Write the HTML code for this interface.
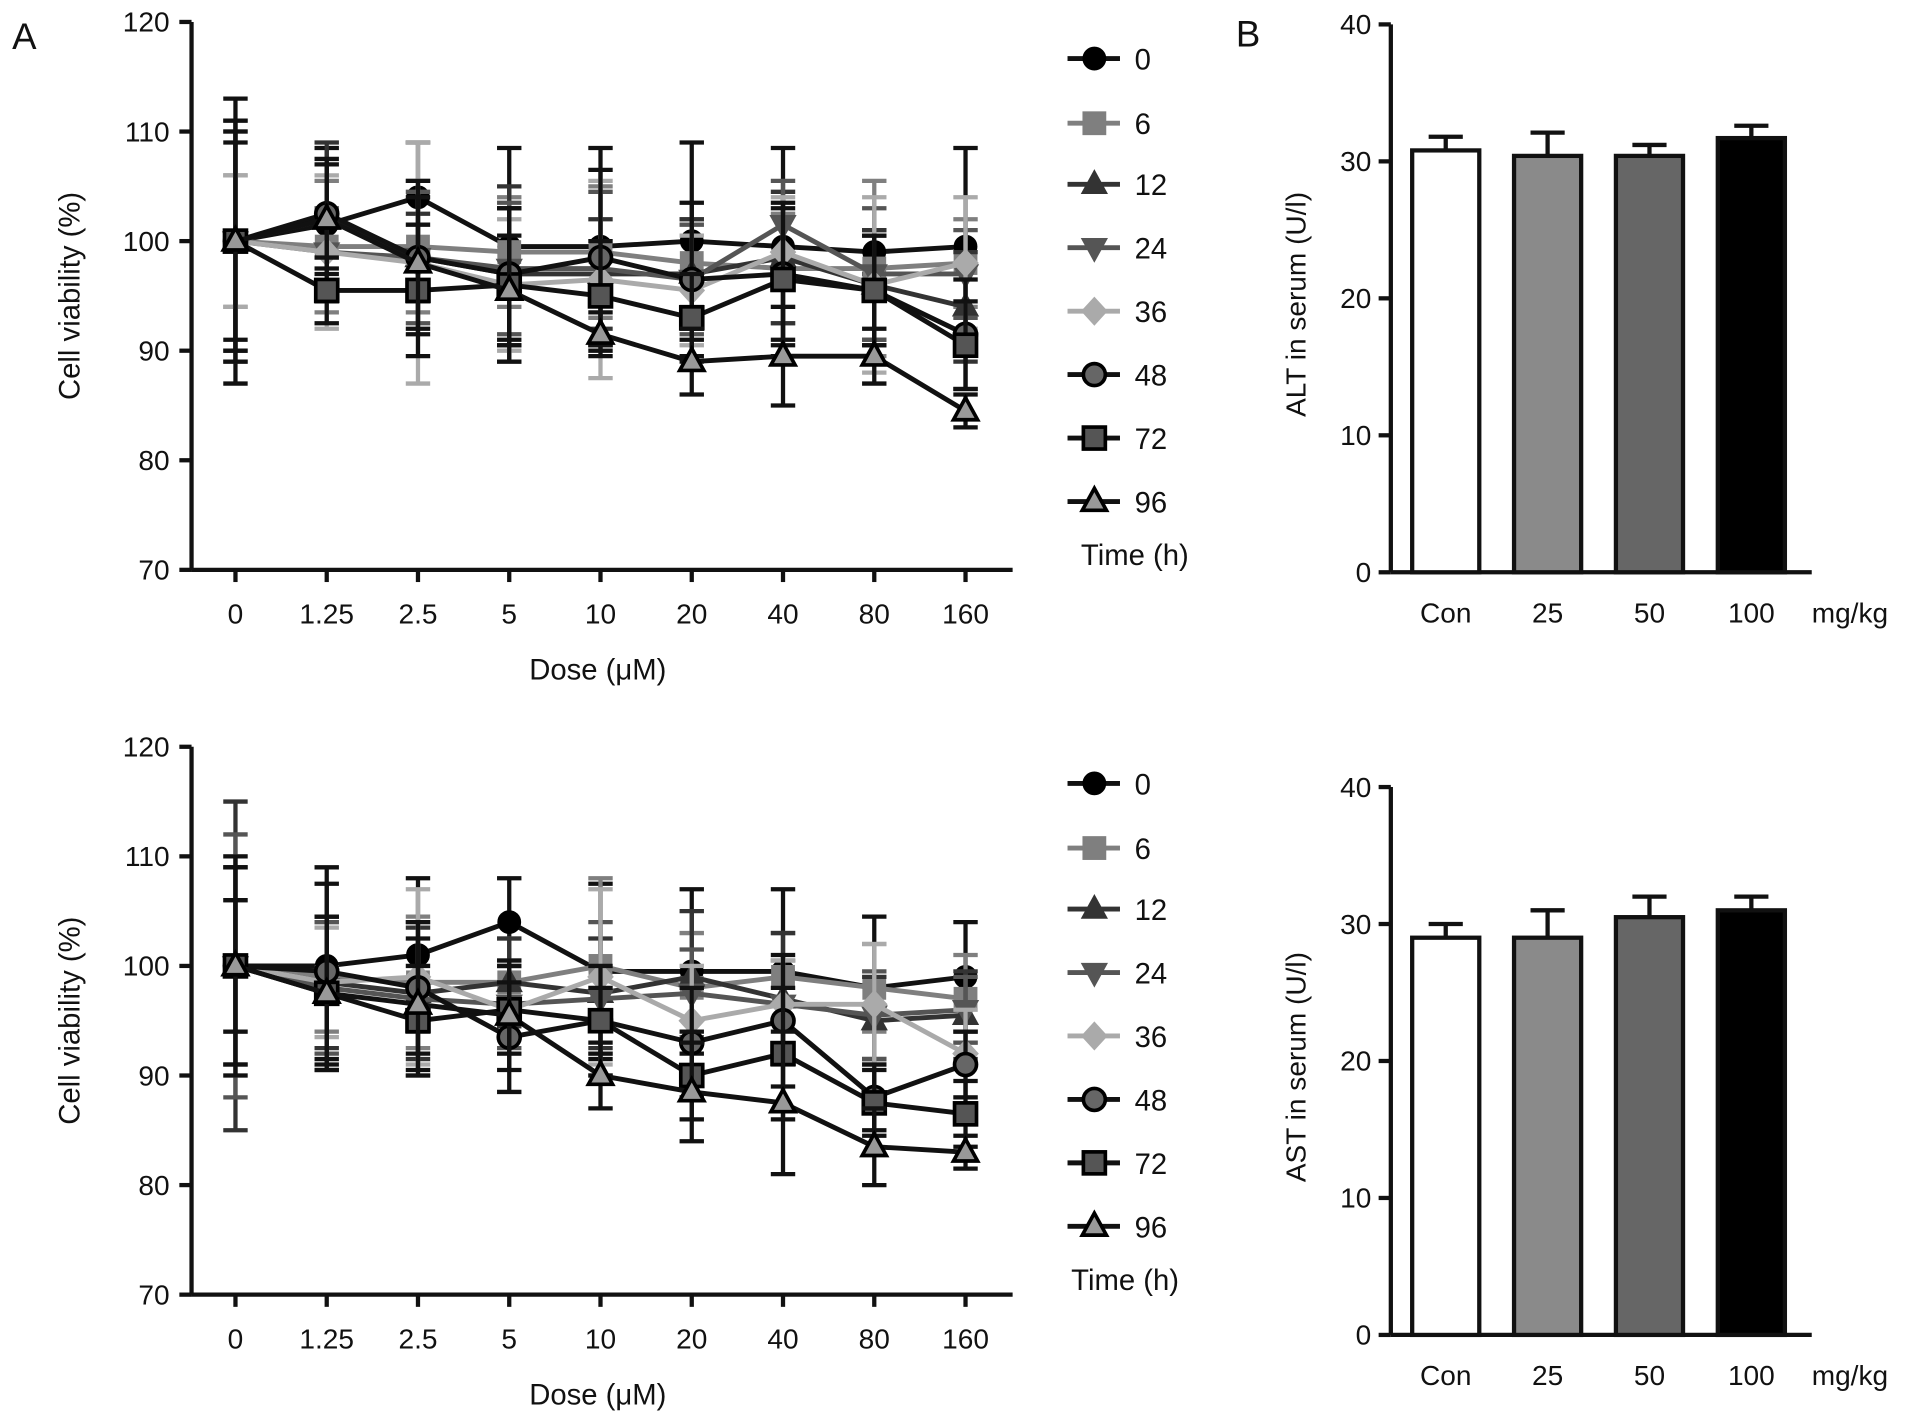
<!DOCTYPE html>
<html><head><meta charset="utf-8"><style>
html,body{margin:0;padding:0;background:#fff}
svg{display:block}
text{font-family:"Liberation Sans",Arial,sans-serif;fill:#111}
</style></head><body>
<svg id="fig" width="1913" height="1424" viewBox="0 0 1568 1167" preserveAspectRatio="none" xmlns="http://www.w3.org/2000/svg">
<text x="10" y="40" font-size="30">A</text>
<text x="1013" y="38" font-size="30">B</text>
</svg>
<script>
const doses=["0","1.25","2.5","5","10","20","40","80","160"];
const times=["0","6","12","24","36","48","72","96"];
const topVals=[
[100,101.5,104,99.5,99.5,100,99.5,99,99.5],
[100,99.5,99.5,99,99,98,97.5,97.5,98],
[100,102,98.5,97,97,97,98.5,96,94],
[100,99,98.5,97.5,97.5,96.5,101.5,97,97],
[100,99,98,96,96.5,95.5,99,96,98],
[100,102.5,98.5,97,98.5,96.5,97,95.5,91.5],
[100,95.5,95.5,96,95,93,96.5,95.5,90.5],
[100,102,98,95.5,91.5,89,89.5,89.5,84.5]];
const topErr=[
[13,7,5,9,9,9,9,2,9],[6,6,6,5,6,4,5,8,4],[11,7,4,8,5,5,6,5,5],[10,4,6,6,7,5,4,6,4],
[6,7,11,6,9,5,5,8,6],[10,5,7,6,8,7,6,5,5],[9,3,6,7,5,4,7,5,4],[11,5,6,5,2,3,4.5,2.5,1.5]];
const botVals=[
[100,100,101,104,99.5,99.5,99.5,98,99],
[100,99,98.5,98.5,100,98,99,98,97],
[100,98.5,97.5,98.5,97.5,99,97,95,95.5],
[100,98,97,96.5,97,97.5,96.5,95.5,96],
[100,98.5,99,96,99,95,96.5,96.5,92],
[100,99.5,98,93.5,95,93,95,88,91],
[100,97.5,95,96,95,90,92,87.5,86.5],
[100,97.5,96.5,95.5,90,88.5,87.5,83.5,83]];
const botErr=[
[9,9,7,4,8,7.5,7.5,6.5,5],[6,5,6,4,8,5,4,4,4],[15,6,6,4,5,6,6,4,4],[12,6,7,4,7,4,4,4,3],
[10,5,8,4,8,5,4,5.5,4],[9,8,6,5,5,5,6,3,3],[6,7,5,4,3,4,6,3,3],[10,7,6,5,3,4.5,6.5,3.5,1.5]];
const barCats=["Con","25","50","100"];
const altVals=[30.8,30.4,30.4,31.7];
const altErr=[1,1.7,0.8,0.9];
const astVals=[29,29,30.5,31];
const astErr=[1,2,1.5,1];
const yTicksLine=[70,80,90,100,110,120];
const yTicksBar=[0,10,20,30,40];

const NS="http://www.w3.org/2000/svg";
const svg=document.getElementById('fig');
function mk(tag,at,parent){const e=document.createElementNS(NS,tag);for(const k in at)e.setAttribute(k,at[k]);(parent||svg).appendChild(e);return e;}
const styles=[
{c:'#000',f:'#000',m:'circle'},{c:'#7f7f7f',f:'#7f7f7f',m:'square'},{c:'#333',f:'#333',m:'tri'},
{c:'#555',f:'#555',m:'dtri'},{c:'#aaa',f:'#aaa',m:'diamond'},{c:'#000',f:'#666',m:'circle',s:1},
{c:'#000',f:'#555',m:'square',s:1},{c:'#000',f:'#999',m:'tri',s:1}];
function marker(g,m,x,y,st,r){
 const sw=st.s?3:1.5, stroke=st.s?'#000':st.f;
 let e;
 if(m==='circle')e=mk('circle',{cx:x,cy:y,r:r},g);
 else if(m==='square')e=mk('rect',{x:x-r,y:y-r,width:2*r,height:2*r},g);
 else if(m==='tri')e=mk('polygon',{points:`${x},${y-r*1.2} ${x-r*1.1},${y+r*0.8} ${x+r*1.1},${y+r*0.8}`},g);
 else if(m==='dtri')e=mk('polygon',{points:`${x},${y+r*1.2} ${x-r*1.1},${y-r*0.8} ${x+r*1.1},${y-r*0.8}`},g);
 else e=mk('polygon',{points:`${x},${y-r*1.2} ${x+r*1.1},${y} ${x},${y+r*1.2} ${x-r*1.1},${y}`},g);
 e.setAttribute('fill',st.f);e.setAttribute('stroke',stroke);e.setAttribute('stroke-width',sw);
 return e;
}
function lineChart(name,y0,vals,errs,legY,timeX,timeY){
 const g=mk('g',{});
 
 
 const ax=157,top=y0,bot=y0+449;
 const ys=v=>bot-(v-70)/50*449;
 const xs=i=>193+i*74.8;
 mk('line',{x1:ax,y1:top,x2:ax,y2:bot,stroke:'#111','stroke-width':3.5},g);
 mk('line',{x1:ax,y1:bot,x2:830,y2:bot,stroke:'#111','stroke-width':3.5},g);
 yTicksLine.forEach(t=>{const y=ys(t);mk('line',{x1:ax-10,y1:y,x2:ax,y2:y,stroke:'#111','stroke-width':3.5},g);
  const tx=mk('text',{x:ax-18,y:y+8,'font-size':23,'text-anchor':'end'},g);tx.textContent=t;
  });
 doses.forEach((d,i)=>{const x=xs(i);mk('line',{x1:x,y1:bot,x2:x,y2:bot+10,stroke:'#111','stroke-width':3.5},g);
  const tx=mk('text',{x:x,y:bot+44,'font-size':23,'text-anchor':'middle'},g);tx.textContent=d;
  });
 const xt=mk('text',{x:490,y:bot+90,'font-size':24,'text-anchor':'middle'},g);xt.textContent='Dose (μM)';
 
 const yt=mk('text',{x:0,y:0,'font-size':24,'text-anchor':'middle',transform:`translate(65,${(top+bot)/2}) rotate(-90)`},g);yt.textContent='Cell viability (%)';
 
 vals.forEach((ser,si)=>{const st=styles[si];
  const sg=mk('g',{},g);
  
  
  const col=st.c==='#000'?'#111':st.c;
  ser.forEach((v,i)=>{const x=xs(i),e=errs[si][i];
   mk('line',{x1:x,y1:ys(v-e),x2:x,y2:ys(v+e),stroke:col,'stroke-width':3.5},sg);
   [v-e,v+e].forEach(w=>mk('line',{x1:x-10,y1:ys(w),x2:x+10,y2:ys(w),stroke:col,'stroke-width':3.5},sg));});
  mk('polyline',{points:ser.map((v,i)=>xs(i)+','+ys(v)).join(' '),fill:'none',stroke:col,'stroke-width':4},sg);
  ser.forEach((v,i)=>{const m=marker(sg,st.m,xs(i),ys(v),st,9);
   });
 });
 times.forEach((t,i)=>{const st=styles[i],y=legY[i];
  const lg=mk('g',{},g);
  
  
  mk('line',{x1:875,y1:y,x2:918,y2:y,stroke:st.c==='#000'?'#111':st.c,'stroke-width':4},lg);
  marker(lg,st.m,897,y,st,9);
  const tx=mk('text',{x:930,y:y+9,'font-size':24},lg);tx.textContent=t;});
 const tt=mk('text',{x:timeX,y:timeY,'font-size':24},g);tt.textContent='Time (h)';
 
}
lineChart('viability-chart-top',18,topVals,topErr,[48,101,151,203,255,307,359,411],886,463);
lineChart('viability-chart-bottom',612,botVals,botErr,[642,695,745,797,849,901,953,1005],878,1057);

const barFills=['#fff','#8a8a8a','#666','#000'];
function barChart(name,top,vals,errs,title){
 const g=mk('g',{});
 
 
 const ax=1140,bot=top+449;
 const ys=v=>bot-v/40*449;
 mk('line',{x1:ax,y1:top,x2:ax,y2:bot,stroke:'#111','stroke-width':3.5},g);
 mk('line',{x1:ax,y1:bot,x2:1485,y2:bot,stroke:'#111','stroke-width':3.5},g);
 yTicksBar.forEach(t=>{const y=ys(t);mk('line',{x1:ax-10,y1:y,x2:ax,y2:y,stroke:'#111','stroke-width':3.5},g);
  const tx=mk('text',{x:ax-16,y:y+8,'font-size':23,'text-anchor':'end'},g);tx.textContent=t;
  });
 vals.forEach((v,i)=>{const xc=1185+i*83.5,w=55;
  mk('line',{x1:xc,y1:ys(v),x2:xc,y2:ys(v+errs[i]),stroke:'#111','stroke-width':3.5},g);
  mk('line',{x1:xc-14,y1:ys(v+errs[i]),x2:xc+14,y2:ys(v+errs[i]),stroke:'#111','stroke-width':3.5},g);
  const r=mk('rect',{x:xc-w/2,y:ys(v),width:w,height:bot-ys(v),fill:barFills[i],stroke:'#111','stroke-width':3.5},g);
  
  const tx=mk('text',{x:xc,y:bot+41,'font-size':23,'text-anchor':'middle'},g);tx.textContent=barCats[i];
  });
 const u=mk('text',{x:1485,y:bot+41,'font-size':23},g);u.textContent='mg/kg';
 
 const yt=mk('text',{x:0,y:0,'font-size':23,'text-anchor':'middle',transform:`translate(1070,${(top+bot)/2+5}) rotate(-90)`},g);yt.textContent=title;
 
}
barChart('alt-bar-chart',20,altVals,altErr,'ALT in serum (U/l)');
barChart('ast-bar-chart',645,astVals,astErr,'AST in serum (U/l)');
</script>
</body></html>
